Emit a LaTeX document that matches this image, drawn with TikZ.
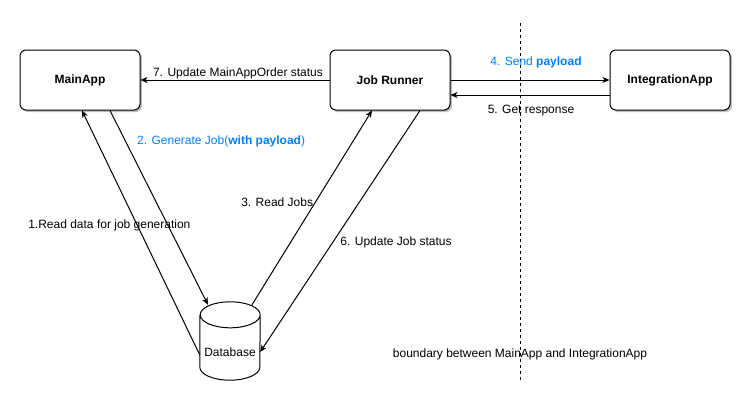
\documentclass[tikz,border=0pt]{standalone}
\usepackage{fontspec}
\setmainfont{Liberation Sans}
\usepackage{tikz}
\usetikzlibrary{arrows.meta,positioning,calc,shadows}
\definecolor{lblue}{RGB}{0,127,255}
\tikzset{
  app/.style={draw,rounded corners=6pt,fill=white,minimum width=120pt,minimum height=60pt,line width=1pt,font=\fontsize{12}{14}\selectfont\bfseries,drop shadow={shadow xshift=2pt,shadow yshift=-2pt,opacity=0.25,fill=black}},
  arr/.style={-{Stealth[length=7pt,width=6pt,inset=2pt]},line width=1pt},
  lbl/.style={font=\fontsize{12}{14}\selectfont,inner sep=1pt},
  blu/.style={lbl,text=lblue},
  dbnode/.style={minimum width=60pt,minimum height=78pt,inner sep=0pt},
}

\begin{document}
\begin{tikzpicture}[x=1pt,y=-1pt]
 \useasboundingbox (0,0) rectangle (753,402);
 \node[app] (main) at (80,80) {MainApp};
 \node[app] (runner) at (390,80) {Job Runner};
 \node[app] (integ) at (670,80) {IntegrationApp};
 \node[dbnode] (db) at (230,341) {};
 % database cylinder
 \draw[line width=1pt] ($(db.north west)+(0,13)$) -- ($(db.south west)+(0,-13)$) arc[start angle=180,end angle=0,x radius=30,y radius=13] -- ($(db.north east)+(0,13)$) arc[start angle=0,end angle=-180,x radius=30,y radius=13] arc[start angle=180,end angle=0,x radius=30,y radius=13];
 \node[lbl] (dblabel) at ($(db.center)+(0,11)$) {Database};
 % boundary
 \coordinate (btop) at (520,23);
 \coordinate (bbot) at (520,380);
 \draw[line width=1pt,dash pattern=on 3pt off 3pt] (btop) -- (bbot);
 \node[lbl] (bnd) at (520,354) {boundary between MainApp and IntegrationApp};
 % flows
 \draw[arr] ($(db.west)+(0,14)$) -- node[lbl,pos=0.53,xshift=-28pt]{1.Read data for job generation} ($(main.south)+(2,0)$);
 \draw[arr] ($(main.south)+(30,0)$) -- node[blu,pos=0.16,anchor=west,xshift=10pt]{2. Generate Job(\textbf{with payload})} ($(db.north)+(-22,3)$);
 \draw[arr] ($(db.north)+(22,3)$) -- node[lbl,pos=0.53,anchor=east,inner sep=0pt,xshift=-2pt]{3. Read Jobs} ($(runner.south)+(-18,0)$);
 \draw[arr] (runner.east) -- node[blu,above=11pt,xshift=6pt]{4. Send \textbf{payload}} (integ.west);
 \draw[arr] ($(integ.west)+(0,15)$) -- node[lbl,below=9pt,xshift=1pt]{5. Get response} ($(runner.east)+(0,15)$);
 \draw[arr] ($(runner.south)+(30,0)$) -- node[lbl,pos=0.545,anchor=west,xshift=6pt]{6. Update Job status} ($(db.east)+(0,11)$);
 \draw[arr] (runner.west) -- node[lbl,above,xshift=3pt]{7. Update MainAppOrder status} (main.east);
\end{tikzpicture}
\end{document}
